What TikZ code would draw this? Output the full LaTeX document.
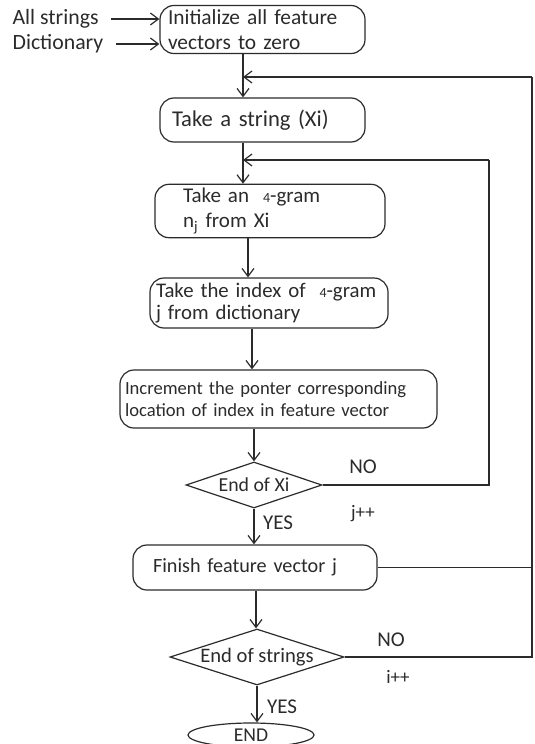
\documentclass[tikz,border=0pt]{standalone}
\usepackage{fontspec}
\setmainfont{Carlito}
\usetikzlibrary{positioning,arrows.meta,shapes.geometric}
\definecolor{flowInk}{HTML}{2B2B2B}

\begin{document}
\begin{tikzpicture}[x=0.5pt, y=-0.5pt, font=\fontsize{10.5}{12}\selectfont,
      >={Straight Barb[length=4pt,width=6pt]}, line width=0.6pt, flowInk,
      box/.style={draw, rounded corners=7pt, align=left, inner ysep=2pt},
      test/.style={draw, diamond, aspect=3, inner sep=0pt},
      stop/.style={draw, ellipse, inner sep=0pt},
      lbl/.style={inner sep=0pt}]
    \clip (0,0) rectangle (535,744);
    % ---- inputs
    \node[lbl, anchor=west, font=\fontsize{10.9}{12.5}\selectfont] (allstr) at (12,19) {All strings};
    \node[lbl, anchor=west, font=\fontsize{10.9}{12.5}\selectfont] (dict) at (12,44) {Dictionary};
    \node[box, text width=94.5pt, inner xsep=4pt, minimum height=22.5pt, font=\fontsize{10.7}{12.5}\selectfont] (init) at (262.5,29.5) {Initialize all feature\\vectors to zero};
    \draw[->] ([xshift=6pt]allstr.east) -- (allstr -| init.west);
    \draw[->] ([xshift=6pt]dict.east) -- (dict -| init.west);
    % ---- steps
    \node[box, text width=90.5pt, inner xsep=6pt, minimum height=22pt, font=\fontsize{11.3}{13}\selectfont] (take) at (262.5,120) {Take a string (Xi)};
    \node[box, text width=87pt, inner xsep=14pt, minimum height=24pt, font=\fontsize{10.5}{12.5}\selectfont] (gram) at (270,211) {Take an \ {\fontsize{7}{8}\selectfont 4}-gram\\n\textsubscript{j} from Xi};
    \node[box, text width=113pt, inner xsep=3pt, minimum height=25pt, font=\fontsize{10.4}{11}\selectfont] (index) at (269,303) {Take the index of \ {\fontsize{7}{8}\selectfont 4}-gram\\j from dictionary};
    \node[box, text width=153.5pt, inner xsep=2.5pt, minimum height=29pt, font=\fontsize{9.3}{11}\selectfont] (incr) at (278.5,399) {Increment the ponter corresponding\\location of index in feature vector};
    \node[test, minimum width=68pt, minimum height=23pt, font=\fontsize{9.9}{11}\selectfont] (endxi) at (254,485) {End of Xi};
    \node[box, text width=102pt, inner xsep=10pt, minimum height=22.5pt, font=\fontsize{10.1}{11}\selectfont] (finish) at (255,567.5) {Finish feature vector j};
    \node[test, minimum width=87pt, minimum height=28pt, font=\fontsize{10.3}{11}\selectfont] (endstr) at (257,657) {End of strings};
    \node[stop, minimum width=63pt, minimum height=12pt, font=\fontsize{9.8}{11}\selectfont] (stopnode) at (251,735) {END};
    % ---- labels
    \node[lbl] (noXi) at (363,467) {NO};
    \node[lbl, font=\fontsize{9.5}{10}\selectfont] (jpp) at (363,514) {j++};
    \node[lbl] (yesXi) at (278,523) {YES};
    \node[lbl] (noStr) at (391,640) {NO};
    \node[lbl, font=\fontsize{9.5}{10}\selectfont] (ipp) at (398,677) {i++};
    \node[lbl] (yesStr) at (282,707) {YES};
    % ---- main line
    \coordinate (s1) at (243,0);
    \coordinate (s2) at (248,0);
    \coordinate (s3) at (252,0);
    \coordinate (s4) at (256,0);
    \coordinate (s5) at (257,0);
    \draw[->] (init.south -| s1) -- (take.north -| s1);
    \draw[->] (take.south -| s1) -- (gram.north -| s1);
    \draw[->] (gram.south -| s2) -- (index.north -| s2);
    \draw[->] (index.south -| s3) -- (incr.north -| s3);
    \draw[->] (incr.south -| endxi) -- (endxi.north);
    \draw[->] (endxi.south) -- (finish.north -| endxi);
    \draw[->] (finish.south -| s4) -- (endstr.north -| s4);
    \draw[->] (endstr.south) -- (stopnode.north -| s5);
    % ---- loops back
    \coordinate (outerTop) at (532,77);
    \coordinate (innerTop) at (489,160);
    \draw (endstr.east) -| (outerTop);
    \draw[->] (outerTop) -- (outerTop -| s1);
    \draw (finish.east) -- (finish.east -| outerTop);
    \draw (endxi.east) -| (innerTop);
    \draw[->] (innerTop) -- (innerTop -| s1);
\end{tikzpicture}
\end{document}
